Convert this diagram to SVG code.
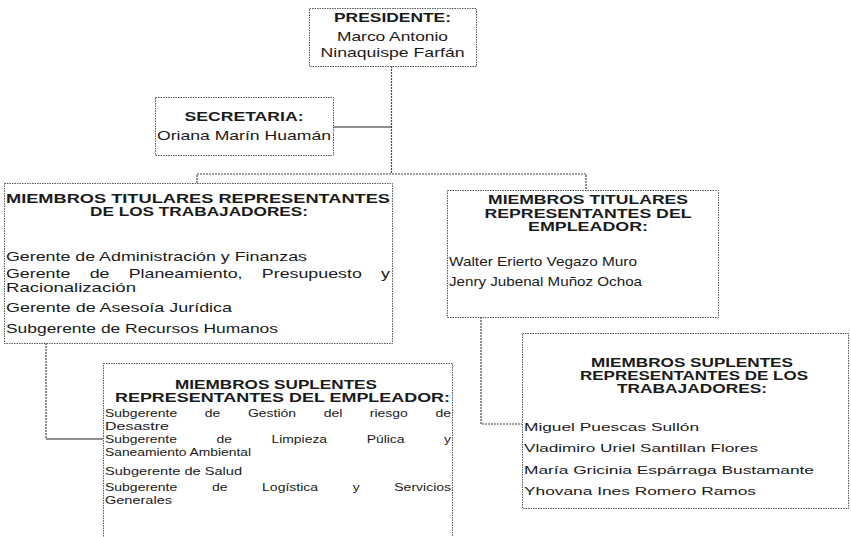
<svg xmlns="http://www.w3.org/2000/svg" width="851" height="537" viewBox="0 0 851 537">
<style>
.t{font-family:"Liberation Sans",Arial,sans-serif;fill:#1a1a1a;font-size:13px}
.h{font-size:12.5px;font-weight:bold}
.s{font-size:11.5px}
.sb{font-size:12px;font-weight:bold}
.box{fill:#fff;stroke:#555;stroke-width:1;stroke-dasharray:1.5 1}
.con{fill:none;stroke:#444;stroke-width:1.2;stroke-dasharray:2 1}
.solid{stroke:#222;stroke-dasharray:none}
</style>
<rect width="851" height="537" fill="#fff"/>
<g id="connectors">
<path class="con" d="M391.5 66V174"/>
<path class="con solid" d="M333 127H391.5"/>
<path class="con" d="M197 183V174H586V190"/>
<path class="con" d="M46 343V439"/>
<path class="con solid" d="M46 439H103"/>
<path class="con" d="M481 317V424H522"/>
</g>
<g id="presidente">
<rect class="box" x="309.5" y="8.5" width="167" height="58"/>
<text class="t h" x="334" y="22" textLength="117" lengthAdjust="spacingAndGlyphs">PRESIDENTE:</text>
<text class="t" x="337" y="41" textLength="111" lengthAdjust="spacingAndGlyphs">Marco Antonio</text>
<text class="t" x="320.5" y="57" textLength="144" lengthAdjust="spacingAndGlyphs">Ninaquispe Farfán</text>
</g>
<g id="secretaria">
<rect class="box" x="155.5" y="97.5" width="178" height="58"/>
<text class="t h" x="184.5" y="121" textLength="119" lengthAdjust="spacingAndGlyphs">SECRETARIA:</text>
<text class="t" x="157" y="140" textLength="174" lengthAdjust="spacingAndGlyphs">Oriana Marín Huamán</text>
</g>
<g id="titulares-trabajadores">
<rect class="box" x="4.5" y="183.5" width="388" height="160"/>
<text class="t h" x="6" y="202.5" textLength="384" lengthAdjust="spacingAndGlyphs">MIEMBROS TITULARES REPRESENTANTES</text>
<text class="t h" x="90" y="216" textLength="218" lengthAdjust="spacingAndGlyphs">DE LOS TRABAJADORES:</text>
<text class="t" x="6" y="261" textLength="301" lengthAdjust="spacingAndGlyphs">Gerente de Administración y Finanzas</text>
<text class="t" x="6" y="278" word-spacing="10.5" textLength="384" lengthAdjust="spacingAndGlyphs">Gerente de Planeamiento, Presupuesto y</text>
<text class="t" x="6" y="292" textLength="130" lengthAdjust="spacingAndGlyphs">Racionalización</text>
<text class="t" x="6" y="312" textLength="226" lengthAdjust="spacingAndGlyphs">Gerente de Asesoía Jurídica</text>
<text class="t" x="6" y="333" textLength="272" lengthAdjust="spacingAndGlyphs">Subgerente de Recursos Humanos</text>
</g>
<g id="titulares-empleador">
<rect class="box" x="447.5" y="190.5" width="271" height="127"/>
<text class="t h" x="488" y="204" textLength="200" lengthAdjust="spacingAndGlyphs">MIEMBROS TITULARES</text>
<text class="t h" x="484.5" y="217.5" textLength="207" lengthAdjust="spacingAndGlyphs">REPRESENTANTES DEL</text>
<text class="t h" x="528" y="231" textLength="120" lengthAdjust="spacingAndGlyphs">EMPLEADOR:</text>
<text class="t" x="449" y="266" textLength="188" lengthAdjust="spacingAndGlyphs">Walter Erierto Vegazo Muro</text>
<text class="t" x="449" y="286" textLength="193" lengthAdjust="spacingAndGlyphs">Jenry Jubenal Muñoz Ochoa</text>
</g>
<g id="suplentes-empleador">
<rect class="box" x="103.5" y="363.5" width="349" height="190"/>
<text class="t sb" x="175" y="389" textLength="202" lengthAdjust="spacingAndGlyphs">MIEMBROS SUPLENTES</text>
<text class="t sb" x="115" y="402" textLength="335" lengthAdjust="spacingAndGlyphs">REPRESENTANTES DEL EMPLEADOR:</text>
<text class="t s" x="105" y="417" word-spacing="19.5" textLength="346" lengthAdjust="spacingAndGlyphs">Subgerente de Gestión del riesgo de</text>
<text class="t s" x="105" y="430" textLength="64" lengthAdjust="spacingAndGlyphs">Desastre</text>
<text class="t s" x="105" y="443" word-spacing="29.5" textLength="346" lengthAdjust="spacingAndGlyphs">Subgerente de Limpieza Púlica y</text>
<text class="t s" x="105" y="456" textLength="146" lengthAdjust="spacingAndGlyphs">Saneamiento Ambiental</text>
<text class="t s" x="105" y="475" textLength="137" lengthAdjust="spacingAndGlyphs">Subgerente de Salud</text>
<text class="t s" x="105" y="491" word-spacing="25.3" textLength="346" lengthAdjust="spacingAndGlyphs">Subgerente de Logística y Servicios</text>
<text class="t s" x="105" y="504" textLength="67" lengthAdjust="spacingAndGlyphs">Generales</text>
</g>
<g id="suplentes-trabajadores">
<rect class="box" x="522.5" y="333.5" width="326" height="175"/>
<text class="t sb" x="591" y="367" textLength="202" lengthAdjust="spacingAndGlyphs">MIEMBROS SUPLENTES</text>
<text class="t sb" x="580" y="380" textLength="228" lengthAdjust="spacingAndGlyphs">REPRESENTANTES DE LOS</text>
<text class="t sb" x="617" y="393" textLength="150" lengthAdjust="spacingAndGlyphs">TRABAJADORES:</text>
<text class="t s" x="524" y="431" textLength="175" lengthAdjust="spacingAndGlyphs">Miguel Puescas Sullón</text>
<text class="t s" x="524" y="452" textLength="234" lengthAdjust="spacingAndGlyphs">Vladimiro Uriel Santillan Flores</text>
<text class="t s" x="524" y="474" textLength="290" lengthAdjust="spacingAndGlyphs">María Gricinia Espárraga Bustamante</text>
<text class="t s" x="524" y="495" textLength="232" lengthAdjust="spacingAndGlyphs">Yhovana Ines Romero Ramos</text>
</g>
</svg>
